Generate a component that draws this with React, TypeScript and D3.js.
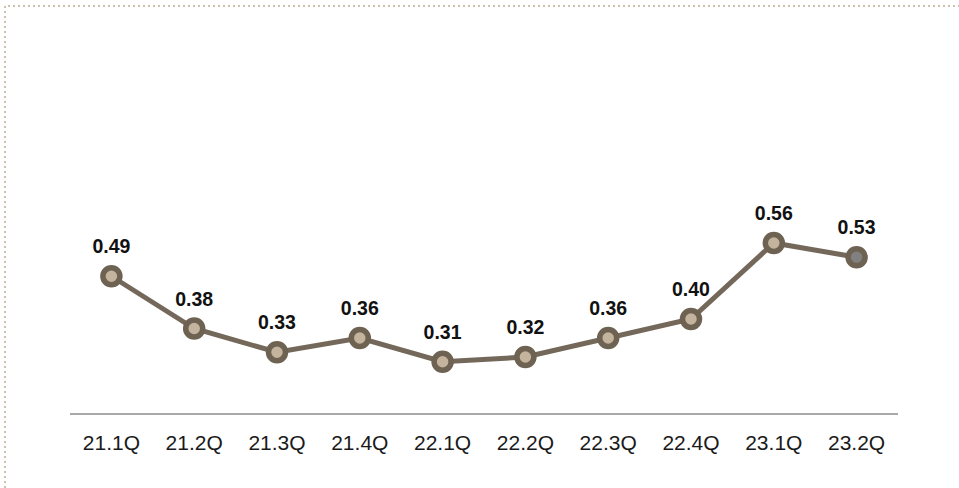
import * as d3 from "d3";
import { useEffect, useRef } from "react";

const quarters = ["21.1Q", "21.2Q", "21.3Q", "21.4Q", "22.1Q", "22.2Q", "22.3Q", "22.4Q", "23.1Q", "23.2Q"];
const values = [0.49, 0.38, 0.33, 0.36, 0.31, 0.32, 0.36, 0.4, 0.56, 0.53];

const width = 959;
const height = 488;

const App = () => {
  const ref = useRef<SVGSVGElement | null>(null);

  useEffect(() => {
    if (!ref.current) return;
    const svg = d3.select(ref.current);
    svg.selectAll("*").remove();

    // dotted frame, top and left only
    svg
      .append("path")
      .attr("d", `M5,${height} L5,6 L${width},6`)
      .attr("fill", "none")
      .attr("stroke", "#cfc0ad")
      .attr("stroke-width", 2)
      .attr("stroke-dasharray", "2,3");

    const x = d3.scaleBand<string>().domain(quarters).range([70, 898]);
    const y = d3.scaleLinear().domain([0.2, 0.6]).range([414, 224]);
    const cx = (i: number) => x(quarters[i])! + x.bandwidth() / 2;

    svg
      .append("line")
      .attr("x1", 70)
      .attr("x2", 898)
      .attr("y1", 414)
      .attr("y2", 414)
      .attr("stroke", "#8c8c8c")
      .attr("stroke-width", 1.5);

    svg
      .append("g")
      .selectAll("text")
      .data(quarters)
      .join("text")
      .attr("x", (d) => x(d)! + x.bandwidth() / 2)
      .attr("y", 450)
      .attr("text-anchor", "middle")
      .attr("font-family", "Arial, 'Liberation Sans', sans-serif")
      .attr("font-size", 21)
      .attr("fill", "#1a1a1a")
      .text((d) => d);

    const line = d3
      .line<number>()
      .x((_, i) => cx(i))
      .y((d) => y(d));

    svg
      .append("path")
      .datum(values)
      .attr("d", line)
      .attr("fill", "none")
      .attr("stroke", "#74685a")
      .attr("stroke-width", 5);

    svg
      .append("g")
      .selectAll("circle")
      .data(values)
      .join("circle")
      .attr("cx", (_, i) => cx(i))
      .attr("cy", (d) => y(d))
      .attr("r", 8.5)
      .attr("fill", (_, i) => (i === values.length - 1 ? "#808080" : "#c4b39d"))
      .attr("stroke", "#6e6252")
      .attr("stroke-width", 5.5);

    svg
      .append("g")
      .selectAll("text")
      .data(values)
      .join("text")
      .attr("x", (_, i) => cx(i))
      .attr("y", (d) => y(d) - 23)
      .attr("text-anchor", "middle")
      .attr("font-family", "Arial, 'Liberation Sans', sans-serif")
      .attr("font-size", 19.5)
      .attr("font-weight", "bold")
      .attr("fill", "#111")
      .text((d) => d.toFixed(2));
  }, []);

  return (
    <svg
      ref={ref}
      width={width}
      height={height}
      style={{ position: "absolute", left: 0, top: 0, background: "#fff" }}
    />
  );
};

export default App;
